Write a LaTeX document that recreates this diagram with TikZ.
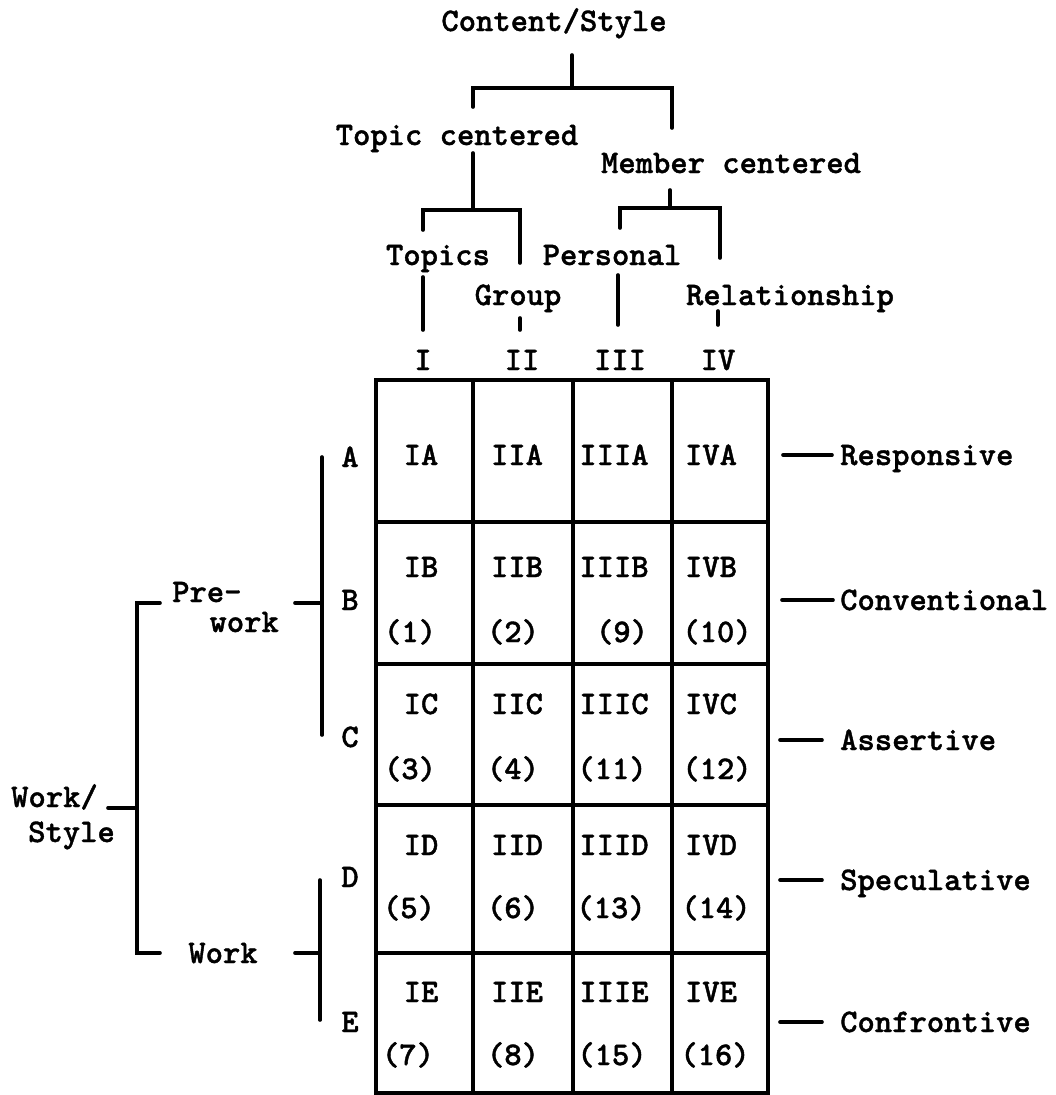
\documentclass[tikz,border=0pt]{standalone}
\usepackage{fontspec}
\newfontfamily\tw{lmmonolt10-bold.otf}[FakeBold=1.2]
\begin{document}
\begin{tikzpicture}[x=1pt,y=-1pt,
  ink/.style={line width=3.6pt,line cap=round,line join=miter},
  grid/.style={line width=3.8pt,line join=miter},
  lbl/.style={anchor=base,inner sep=0pt,font=\tw\fontsize{33}{39}\selectfont},
  lblw/.style={lbl,anchor=base west}]
\useasboundingbox (0,0) rectangle (1055,1095);

% ---- top hierarchy ----
\node[lbl] (cs) at (554,31) {Content/Style};
\node[lbl] (tc) at (457,145) {Topic centered};
\node[lbl] (mc) at (731,173) {Member centered};
\node[lbl] (top) at (438,265) {Topics};
\node[lbl] (per) at (612,265) {Personal};
\node[lbl] (grp) at (518,305) {Group};
\node[lbl] (rel) at (790,305) {Relationship};

\draw[ink] (572,55) -- (572,88);
\draw[ink] (473,107) -- (473,88) -- (672,88) -- (672,128);
\draw[ink] (473,153) -- (473,210);
\draw[ink] (423,230) -- (423,210) -- (520,210) -- (520,263);
\draw[ink] (670,190) -- (670,208);
\draw[ink] (620,228) -- (620,208) -- (720,208) -- (720,258);
\draw[ink] (423,277) -- (423,330);
\draw[ink] (520,318) -- (520,330);
\draw[ink] (618,275) -- (618,325);
\draw[ink] (718,311) -- (718,325);

% ---- column headers ----
\foreach \n/\x in {I/423,II/522,III/620,IV/718}
  \node[lbl] (h\n) at (\x,370) {\n};

% ---- grid ----
\draw[grid] (376,380) rectangle (768,1093);
\foreach \x in {473,573,672} \draw[grid] (\x,380) -- (\x,1093);
\foreach \y in {522,664,805,953} \draw[grid] (376,\y) -- (768,\y);

% ---- cell labels ----
\foreach \n/\x in {I/421,II/517,III/614,IV/711}{
  \node[lbl] (c\n A) at (\x,465) {\n A};
  \node[lbl] (c\n B) at (\x,577) {\n B};
  \node[lbl] (c\n C) at (\x,714) {\n C};
  \node[lbl] (c\n D) at (\x,855) {\n D};
  \node[lbl] (c\n E) at (\x,1002) {\n E};
}
\foreach \t/\x/\y in {(1)/410/642,(2)/513/642,(9)/622/642,(10)/717/642,
  (3)/410/779,(4)/513/779,(11)/612/779,(12)/717/779,
  (5)/409/918,(6)/513/918,(13)/611/918,(14)/716/918,
  (7)/408/1065,(8)/513/1065,(15)/612/1065,(16)/715/1065}
  \node[lbl] at (\x,\y) {\t};

% ---- row letters ----
\foreach \r/\y in {A/457,B/600,C/737,D/877,E/1022}
  \node[lbl] (r\r) at (350,\y+10) {\r};

% ---- left hierarchy ----
\draw[ink] (322,457) -- (322,735);
\draw[ink] (295,603) -- (322,603);
\draw[ink] (320,880) -- (320,1020);
\draw[ink] (295,953) -- (320,953);
\node[lbl,anchor=base west] (pre) at (172,602) {Pre-};
\node[lbl,anchor=base east] (wk) at (279,632) {work};
\node[lbl] (work) at (223,963) {Work};
\node[lbl,anchor=base west] (ws1) at (11,807) {Work/};
\node[lbl,anchor=base west] (ws2) at (28,842) {Style};
\draw[ink] (160,603) -- (137,603) -- (137,953) -- (160,953);
\draw[ink] (108,808) -- (137,808);

% ---- right labels ----
\foreach \t/\y/\a/\b in {Responsive/455/783/832,Conventional/600/782/833,
  Assertive/740/780/822,Speculative/880/780/822,Confrontive/1022/780/822}{
  \draw[ink] (\a,\y) -- (\b,\y);
  \node[lblw] (l\t) at (840,\y+10) {\t};
}
\end{tikzpicture}
\end{document}
